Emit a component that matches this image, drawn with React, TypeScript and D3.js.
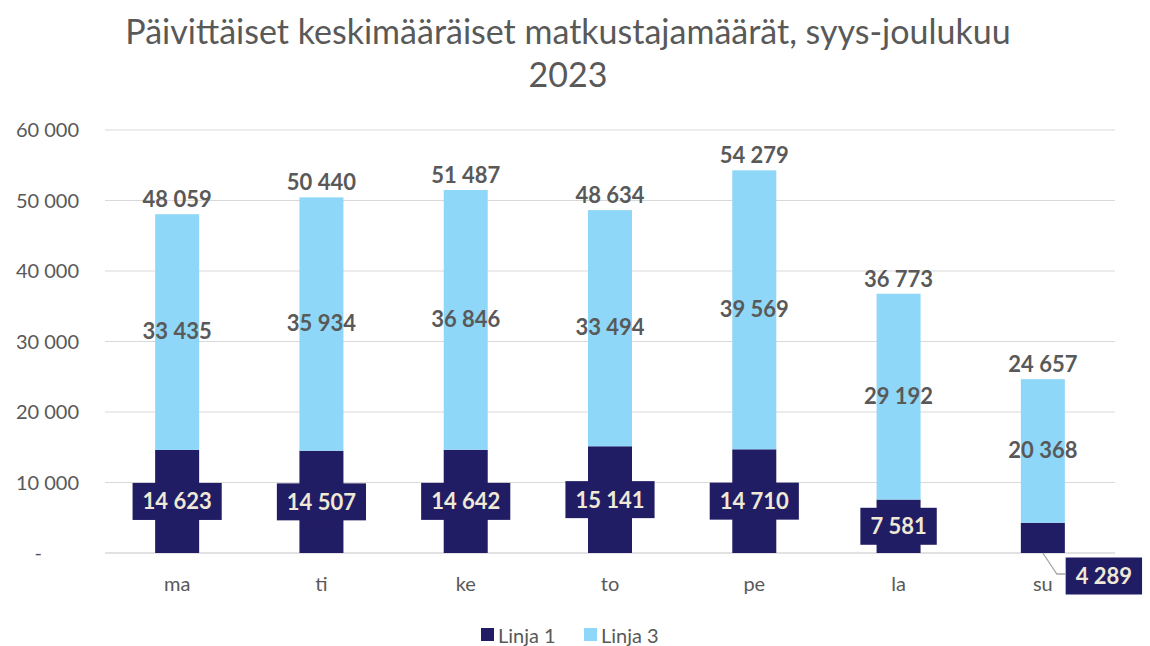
import React, { useRef, useEffect } from 'react';
import * as d3 from 'd3';

const days = ['ma', 'ti', 'ke', 'to', 'pe', 'la', 'su'];
const linja1 = [14623, 14507, 14642, 15141, 14710, 7581, 4289];
const linja3 = [33435, 35934, 36846, 33494, 39569, 29192, 20368];
const totals = [48059, 50440, 51487, 48634, 54279, 36773, 24657];
const yTicks = [0, 10000, 20000, 30000, 40000, 50000, 60000];

const NAVY = '#211d65';
const LIGHT = '#8fd7f8';
const GRAY = '#595959';
const FONT = 'Lato, "Open Sans", sans-serif';

const App = () => {
  const svgRef = useRef<SVGSVGElement>(null);

  useEffect(() => {
    const svg = d3.select(svgRef.current);
    svg.selectAll('*').remove();

    const width = 1150;
    const height = 646;
    const margin = { top: 130, right: 35, bottom: 93, left: 105 };

    const fmt = d3.formatLocale({ decimal: ',', thousands: '\u00a0', grouping: [3], currency: ['', ''] }).format(',d');

    const x = d3.scaleBand<string>()
      .domain(days)
      .range([margin.left, width - margin.right])
      .paddingInner(0.695)
      .paddingOuter(0.3475);

    const y = d3.scaleLinear()
      .domain([0, 60000])
      .range([height - margin.bottom, margin.top]);

    // title
    const title = svg.append('text')
      .attr('text-anchor', 'middle')
      .style('font-family', FONT)
      .style('font-size', '34px')
      .attr('fill', GRAY);
    title.append('tspan').attr('x', 568).attr('y', 44).text('Päivittäiset keskimääräiset matkustajamäärät, syys-joulukuu');
    title.append('tspan').attr('x', 568).attr('y', 87).text('2023');

    // gridlines
    svg.append('g')
      .selectAll('line')
      .data(yTicks)
      .enter()
      .append('line')
      .attr('x1', margin.left)
      .attr('x2', width - margin.right)
      .attr('y1', (d) => y(d))
      .attr('y2', (d) => y(d))
      .attr('stroke', '#d9d9d9')
      .attr('stroke-width', (d) => (d === 0 ? 1.5 : 1.2));

    // y labels
    svg.append('g')
      .selectAll('text')
      .data(yTicks)
      .enter()
      .append('text')
      .attr('x', (d) => (d === 0 ? 42 : 79))
      .attr('y', (d) => y(d) + 7)
      .attr('text-anchor', 'end')
      .style('font-family', FONT)
      .style('font-size', '20px')
      .attr('fill', GRAY)
      .text((d) => (d === 0 ? '-' : fmt(d)));

    // x labels
    svg.append('g')
      .selectAll('text')
      .data(days)
      .enter()
      .append('text')
      .attr('x', (d) => x(d)! + x.bandwidth() / 2)
      .attr('y', y(0) + 38)
      .attr('text-anchor', 'middle')
      .style('font-family', FONT)
      .style('font-size', '20px')
      .attr('fill', GRAY)
      .text((d) => d);

    // bars
    const bars = svg.append('g');
    bars.selectAll('rect.l1')
      .data(days)
      .enter()
      .append('rect')
      .attr('x', (d) => x(d)!)
      .attr('width', x.bandwidth())
      .attr('y', (d, i) => y(linja1[i]))
      .attr('height', (d, i) => y(0) - y(linja1[i]))
      .attr('fill', NAVY);
    bars.selectAll('rect.l3')
      .data(days)
      .enter()
      .append('rect')
      .attr('x', (d) => x(d)!)
      .attr('width', x.bandwidth())
      .attr('y', (d, i) => y(linja1[i] + linja3[i]))
      .attr('height', (d, i) => y(linja1[i]) - y(linja1[i] + linja3[i]))
      .attr('fill', LIGHT);

    // Linja 3 labels
    svg.append('g')
      .selectAll('text')
      .data(days)
      .enter()
      .append('text')
      .attr('x', (d) => x(d)! + x.bandwidth() / 2)
      .attr('y', (d, i) => (y(linja1[i]) + y(linja1[i] + linja3[i])) / 2 + 7)
      .attr('text-anchor', 'middle')
      .style('font-family', FONT)
      .style('font-size', '22px')
      .style('font-weight', 'bold')
      .attr('fill', GRAY)
      .text((d, i) => fmt(linja3[i]));

    // totals
    svg.append('g')
      .selectAll('text')
      .data(days)
      .enter()
      .append('text')
      .attr('x', (d) => x(d)! + x.bandwidth() / 2)
      .attr('y', (d, i) => y(totals[i]) - 7)
      .attr('text-anchor', 'middle')
      .style('font-family', FONT)
      .style('font-size', '22px')
      .style('font-weight', 'bold')
      .attr('fill', GRAY)
      .text((d, i) => fmt(totals[i]));

    // Linja 1 boxed labels
    const boxH = 37;
    const lab = svg.append('g');
    days.forEach((d, i) => {
      const cx = x(d)! + x.bandwidth() / 2;
      const outside = i === days.length - 1;
      const g = lab.append('g');
      const t = g.append('text')
        .attr('text-anchor', 'middle')
        .style('font-family', FONT)
        .style('font-size', '22px')
        .style('font-weight', 'bold')
        .attr('fill', '#efe9d6')
        .text(fmt(linja1[i]));
      const w = (t.node() as SVGTextElement).getComputedTextLength() + 20;
      let bx = cx;
      let by = (y(0) + y(linja1[i])) / 2;
      if (outside) {
        bx = cx + 61;
        by = y(0) + 23;
        g.append('path')
          .attr('d', `M${cx},${y(0)} L${cx + 14},${by - 2} L${bx - w / 2},${by - 2}`)
          .attr('fill', 'none')
          .attr('stroke', '#a6a6a6')
          .attr('stroke-width', 1.3);
      }
      g.insert('rect', 'text')
        .attr('x', bx - w / 2)
        .attr('y', by - boxH / 2)
        .attr('width', w)
        .attr('height', boxH)
        .attr('fill', NAVY);
      t.attr('x', bx).attr('y', by + 8);
    });

    // legend
    const legend = svg.append('g');
    const items = [
      { name: 'Linja 1', color: NAVY, x: 481 },
      { name: 'Linja 3', color: LIGHT, x: 584 },
    ];
    items.forEach((it) => {
      legend.append('rect')
        .attr('x', it.x)
        .attr('y', 628)
        .attr('width', 13)
        .attr('height', 13)
        .attr('fill', it.color);
      legend.append('text')
        .attr('x', it.x + 17)
        .attr('y', 643)
        .style('font-family', FONT)
        .style('font-size', '20px')
        .attr('fill', GRAY)
        .text(it.name);
    });
  }, []);

  return (
    <div style={{ position: 'absolute', left: 0, top: 0 }}>
      <svg ref={svgRef} width={1150} height={646} style={{ display: 'block', background: '#fff' }}></svg>
    </div>
  );
};

export default App;
